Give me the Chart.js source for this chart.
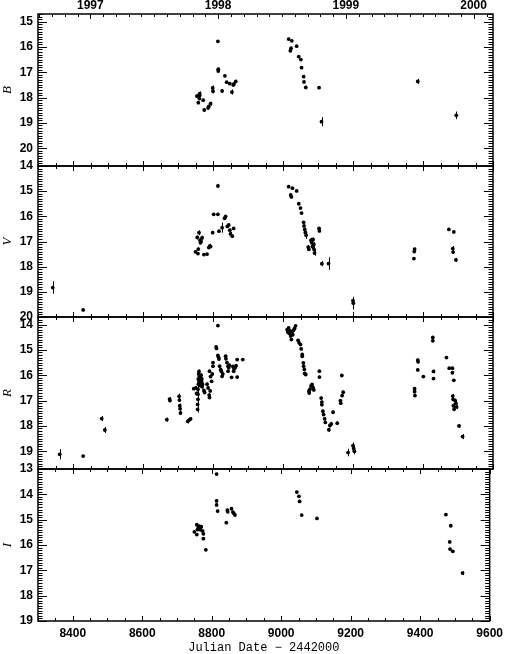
<!DOCTYPE html>
<html>
<head>
<meta charset="utf-8">
<script src="https://cdn.jsdelivr.net/npm/chart.js@4.4.0/dist/chart.umd.min.js"></script>
<style>
  html, body { margin: 0; padding: 0; background: #fff; }
  #wrap { position: relative; width: 508px; height: 654px; background: #fff; }
  #wrap canvas { position: absolute; left: 0; top: 0; }
</style>
</head>
<body>
<div id="wrap">
  <canvas id="cB" width="508" height="654"></canvas>
  <canvas id="cV" width="508" height="654"></canvas>
  <canvas id="cR" width="508" height="654"></canvas>
  <canvas id="cI" width="508" height="654"></canvas>
</div>
<script>
// x axis: Julian Date - 2442000
const dayTicks = [8400, 8600, 8800, 9000, 9200, 9400, 9600];
const yearTicks = [8449.5, 8814.5, 9179.5, 9544.5];
const yearLabels = ['1997', '1998', '1999', '2000'];

// B band
const bRange = [14.7, 20.7];
const bTicks = [15, 16, 17, 18, 19, 20];
const bDays = [8754, 8758, 8761, 8762, 8762, 8772, 8775, 8786, 8788, 8793, 8799, 8800,
  8814, 8815, 8815, 8826, 8834, 8839, 8848, 8854, 8858, 8860, 8865,
  9016, 9025, 9021, 9023, 9039, 9045, 9051, 9053, 9059, 9060, 9065, 9103, 9110,
  9385, 9495];
const bMag = [17.94, 18.20, 18.04, 17.84, 17.92, 18.10, 18.49, 18.41, 18.35, 18.24, 17.62, 17.75,
  15.78, 16.88, 16.95, 17.74, 17.14, 17.39, 17.45, 17.78, 17.50, 17.46, 17.36,
  15.69, 15.76, 16.15, 16.05, 15.97, 16.38, 16.50, 16.82, 17.17, 17.38, 17.60, 17.61, 18.95,
  17.36, 18.70];
const bErr = [0.08, 0.06, 0.06, 0.08, 0.06, 0.05, 0.05, 0.06, 0.06, 0.08, 0.10, 0.08,
  0.05, 0.06, 0.05, 0.08, 0.05, 0.05, 0.05, 0.10, 0.06, 0.05, 0.06,
  0.05, 0.04, 0.05, 0.05, 0.04, 0.04, 0.04, 0.05, 0.07, 0.05, 0.07, 0.05, 0.18,
  0.10, 0.15];

// V band
const vRange = [14, 20];
const vTicks = [14, 15, 16, 17, 18, 19, 20];
const vDays = [8342, 8429,
  8750, 8755, 8757, 8758, 8760, 8763, 8764, 8766, 8769, 8774, 8783, 8788, 8791, 8793,
  8799, 8802, 8814, 8814, 8817, 8826, 8833, 8836, 8841, 8845, 8848, 8850, 8855, 8859,
  9016, 9022, 9024, 9027, 9039, 9045, 9050, 9053, 9059, 9060, 9062, 9064, 9066, 9072, 9074,
  9080, 9082, 9084, 9086, 9088, 9089, 9090, 9103, 9104, 9111, 9130, 9200, 9201,
  9374, 9375, 9376, 9474, 9485, 9486, 9488, 9494];
const vMag = [18.83, 19.72,
  17.41, 16.84, 17.48, 17.30, 16.65, 16.95, 17.05, 17.00, 16.85, 17.52, 17.50, 17.24, 17.17, 17.20,
  16.65, 15.92, 15.92, 14.79, 16.59, 16.45, 16.08, 16.00, 16.40, 16.34, 16.55, 16.70, 16.79, 16.48,
  14.82, 15.15, 15.23, 14.88, 14.99, 15.50, 15.67, 15.87, 16.24, 16.38, 16.52, 16.64, 16.75, 17.22, 17.31,
  16.95, 17.05, 17.20, 16.92, 17.12, 17.32, 17.46, 16.48, 16.58, 17.88, 17.88, 19.35, 19.45,
  17.68, 17.40, 17.30, 16.52, 17.28, 17.42, 16.62, 17.73];
const vErr = [0.25, 0.04,
  0.06, 0.08, 0.06, 0.06, 0.10, 0.08, 0.06, 0.06, 0.08, 0.04, 0.04, 0.05, 0.08, 0.05,
  0.05, 0.05, 0.06, 0.08, 0.05, 0.20, 0.06, 0.05, 0.06, 0.05, 0.05, 0.08, 0.06, 0.05,
  0.04, 0.05, 0.05, 0.04, 0.04, 0.04, 0.04, 0.05, 0.05, 0.05, 0.06, 0.08, 0.15, 0.08, 0.06,
  0.10, 0.08, 0.10, 0.08, 0.10, 0.10, 0.10, 0.05, 0.05, 0.10, 0.25, 0.15, 0.25,
  0.05, 0.05, 0.05, 0.04, 0.10, 0.08, 0.05, 0.08];

// R band
const rRange = [13.7, 19.7];
const rTicks = [14, 15, 16, 17, 18, 19];
const rDays = [8362, 8429, 8482, 8491,
  8668, 8676, 8677, 8703, 8704, 8705, 8706, 8707, 8728, 8732, 8736, 8745, 8751, 8753,
  8756, 8756, 8757, 8757, 8757, 8758, 8758, 8759, 8760, 8760, 8761, 8762, 8763, 8764, 8765, 8766, 8767, 8768, 8769, 8770,
  8774, 8776, 8783, 8786, 8789, 8790, 8792, 8790, 8793, 8796, 8798, 8800, 8800, 8809, 8810,
  8814, 8814, 8816, 8817, 8819, 8822, 8824, 8826, 8828, 8836, 8837, 8840, 8843, 8845, 8847, 8843,
  8853, 8857, 8860, 8863, 8866, 8859, 8869, 8869, 8885,
  9012, 9014, 9016, 9018, 9020, 9022, 9024, 9026, 9028, 9030, 9033, 9036,
  9043, 9046, 9050, 9052, 9055, 9055, 9058, 9059, 9061, 9062, 9065,
  9074, 9075, 9077, 9080, 9083, 9086, 9088, 9104, 9104, 9109, 9111, 9111, 9114, 9116, 9119, 9121,
  9131, 9134, 9138, 9143, 9155, 9164, 9165, 9168, 9169, 9172, 9186, 9200, 9202, 9204,
  9376, 9376, 9377, 9385, 9386, 9385, 9401, 9428, 9428, 9430, 9430,
  9467, 9475, 9484, 9484, 9488, 9485, 9486, 9487, 9489, 9492, 9494, 9496, 9503, 9513];
const rMag = [19.12, 19.19, 17.71, 18.16,
  17.75, 16.94, 17.00, 16.83, 16.98, 17.20, 17.32, 17.49, 17.82, 17.76, 17.72, 16.53, 16.50, 16.72,
  17.35, 17.15, 16.95, 16.75, 16.55, 16.35, 16.15, 15.95, 15.85, 16.25, 16.05, 16.40, 16.20, 16.10, 16.30, 16.00, 16.25, 16.15, 16.45, 16.35,
  16.60, 16.68, 16.35, 16.50, 16.78, 16.88, 16.62, 15.84, 16.05, 16.24, 15.95, 15.50, 15.64, 14.88, 14.94,
  14.04, 15.22, 15.30, 15.36, 15.64, 15.78, 15.85, 16.04, 15.95, 15.25, 15.35, 15.50, 15.64, 15.70, 15.60, 15.84,
  16.08, 15.65, 15.75, 15.70, 15.62, 15.84, 15.38, 16.07, 15.38,
  14.20, 14.30, 14.13, 14.35, 14.25, 14.45, 14.59, 14.28, 14.40, 14.22, 14.15, 14.05,
  14.62, 14.72, 14.79, 14.96, 15.18, 15.25, 15.51, 15.64, 15.77, 15.93, 15.97,
  16.62, 16.70, 16.55, 16.42, 16.36, 16.48, 16.58, 15.84, 16.07, 16.90, 17.06, 17.16, 17.42, 17.55, 17.72, 17.86,
  18.15, 17.98, 17.92, 17.46, 17.89, 17.00, 17.10, 16.01, 16.80, 16.67, 19.05, 18.78, 18.90, 19.00,
  16.53, 16.65, 16.80, 15.40, 15.47, 15.79, 16.05, 14.51, 14.64, 15.85, 16.13,
  15.30, 15.72, 15.72, 15.90, 16.20, 16.82, 16.95, 17.20, 17.34, 17.00, 17.10, 17.25, 18.00, 18.42];
const rErr = [0.20, 0.04, 0.10, 0.12,
  0.08, 0.08, 0.06, 0.10, 0.08, 0.08, 0.08, 0.08, 0.08, 0.06, 0.06, 0.06, 0.06, 0.08,
  0.12, 0.12, 0.12, 0.12, 0.12, 0.10, 0.10, 0.10, 0.08, 0.08, 0.08, 0.08, 0.08, 0.08, 0.08, 0.08, 0.08, 0.08, 0.08, 0.06,
  0.06, 0.06, 0.06, 0.06, 0.08, 0.06, 0.06, 0.05, 0.05, 0.05, 0.05, 0.05, 0.05, 0.05, 0.05,
  0.05, 0.05, 0.05, 0.05, 0.05, 0.05, 0.05, 0.05, 0.05, 0.05, 0.05, 0.05, 0.05, 0.05, 0.05, 0.05,
  0.05, 0.05, 0.05, 0.05, 0.05, 0.05, 0.05, 0.05, 0.04,
  0.04, 0.04, 0.04, 0.04, 0.04, 0.04, 0.04, 0.04, 0.04, 0.04, 0.04, 0.04,
  0.04, 0.04, 0.04, 0.04, 0.04, 0.04, 0.05, 0.05, 0.05, 0.05, 0.05,
  0.06, 0.06, 0.05, 0.05, 0.05, 0.05, 0.05, 0.05, 0.05, 0.06, 0.06, 0.06, 0.06, 0.06, 0.06, 0.06,
  0.08, 0.08, 0.08, 0.07, 0.07, 0.06, 0.06, 0.06, 0.06, 0.06, 0.15, 0.12, 0.12, 0.12,
  0.05, 0.05, 0.05, 0.06, 0.06, 0.05, 0.05, 0.05, 0.05, 0.07, 0.05,
  0.04, 0.04, 0.04, 0.04, 0.05, 0.08, 0.08, 0.08, 0.08, 0.08, 0.08, 0.08, 0.08, 0.10];

// I band
const iRange = [13, 19];
const iTicks = [13, 14, 15, 16, 17, 18, 19];
const iDays = [8750, 8757, 8757, 8759, 8762, 8764, 8766, 8768, 8770, 8774, 8776, 8776, 8783,
  8814, 8814, 8814, 8817, 8842, 8845, 8846, 8857, 8861, 8864, 8867,
  9045, 9051, 9053, 9059, 9103,
  9474, 9488, 9485, 9486, 9494, 9522];
const iMag = [15.48, 15.59, 15.20, 15.39, 15.30, 15.26, 15.35, 15.40, 15.28, 15.45, 15.56, 15.75, 16.19,
  13.20, 14.26, 14.42, 14.66, 15.12, 14.62, 14.69, 14.57, 14.70, 14.76, 14.82,
  13.91, 14.08, 14.28, 14.82, 14.95,
  14.80, 15.24, 15.88, 16.16, 16.25, 17.11];
const iErr = [0.05, 0.05, 0.05, 0.05, 0.05, 0.05, 0.05, 0.05, 0.05, 0.05, 0.05, 0.05, 0.05,
  0.05, 0.05, 0.05, 0.05, 0.05, 0.05, 0.05, 0.05, 0.05, 0.05, 0.05,
  0.04, 0.04, 0.04, 0.04, 0.04,
  0.04, 0.04, 0.04, 0.04, 0.04, 0.08];

const tickFont = { family: 'Liberation Sans, Arial, sans-serif', size: 12, weight: 'bold' };
const bandFont = { family: 'Liberation Serif, serif', size: 13, style: 'italic', lineHeight: 1 };
const xTitleFont = { family: 'Liberation Mono, monospace', size: 12, lineHeight: 1 };

// vertical error bars drawn from the scales
const errorBars = {
  id: 'errorBars',
  beforeDatasetsDraw(chart) {
    const { ctx, chartArea: a, scales: { x, y } } = chart;
    const ds = chart.data.datasets[0];
    ctx.save();
    ctx.beginPath();
    ctx.rect(a.left, a.top, a.right - a.left, a.bottom - a.top);
    ctx.clip();
    ctx.strokeStyle = '#000';
    ctx.lineWidth = 1;
    ctx.beginPath();
    ds.data.forEach((p, i) => {
      const e = ds.err[i];
      const px = Math.round(x.getPixelForValue(p.x)) + 0.5;
      ctx.moveTo(px, y.getPixelForValue(p.y - e));
      ctx.lineTo(px, y.getPixelForValue(p.y + e));
    });
    ctx.stroke();
    ctx.restore();
  }
};

// IDL-style frame with inward ticks on all four sides
const frameTicks = {
  id: 'frameTicks',
  afterDraw(chart, args, opts) {
    const { ctx, chartArea: a, scales: { x, y } } = chart;
    ctx.save();
    ctx.strokeStyle = '#000';
    ctx.lineWidth = 1;
    ctx.beginPath();
    for (let k = Math.ceil(y.min * 10 - 1e-6); k <= Math.floor(y.max * 10 + 1e-6); k++) {
      const py = Math.round(y.getPixelForValue(k / 10)) + 0.5;
      const len = k % 10 === 0 ? 9 : 4.5;
      ctx.moveTo(a.left, py); ctx.lineTo(a.left + len, py);
      ctx.moveTo(a.right, py); ctx.lineTo(a.right - len, py);
    }
    for (let d = x.min; d <= x.max; d += 50) {
      const px = Math.round(x.getPixelForValue(d)) + 0.5;
      const len = d % 200 === 0 ? 5 : 3;
      ctx.moveTo(px, a.bottom); ctx.lineTo(px, a.bottom - len);
      if (!opts.yearTop) { ctx.moveTo(px, a.top); ctx.lineTo(px, a.top + len); }
    }
    if (opts.yearTop) {
      const step = 365.25 / 10;
      for (let d = yearTicks[0] - 10 * step; d <= x.max; d += step) {
        if (d < x.min) continue;
        const major = yearTicks.some(t => Math.abs(t - d) < 1);
        const px = Math.round(x.getPixelForValue(d)) + 0.5;
        ctx.moveTo(px, a.top); ctx.lineTo(px, a.top + (major ? 5 : 3));
      }
    }
    ctx.stroke();
    ctx.lineWidth = 1.5;
    ctx.strokeRect(a.left, a.top, a.right - a.left, a.bottom - a.top);
    ctx.restore();
  }
};

function makePanel(canvasId, label, days, mags, errs, range, ticks, top, bottom, first, last) {
  const scales = {
    x: {
      type: 'linear', min: 8300, max: 9600, display: last, position: 'bottom',
      afterBuildTicks: s => { s.ticks = dayTicks.map(v => ({ value: v })); },
      afterFit: s => { if (last) s.height = 654 - bottom; },
      grid: { display: false, drawTicks: false },
      border: { display: false },
      ticks: { autoSkip: false, maxRotation: 0, padding: 5, color: '#000', font: tickFont,
        callback: v => String(v) },
      title: { display: true, text: 'Julian Date \u2212 2442000', color: '#000', font: xTitleFont, padding: 0 }
    },
    y: {
      type: 'linear', reverse: true, min: range[0], max: range[1],
      afterBuildTicks: s => { s.ticks = ticks.map(v => ({ value: v })); },
      afterFit: s => { s.width = 38; },
      grid: { display: false, drawTicks: false },
      border: { display: false },
      ticks: { autoSkip: false, padding: 5, color: '#000', font: tickFont, callback: v => String(v) },
      title: { display: true, text: label, color: '#000', font: bandFont, padding: { top: 1, bottom: 0 } }
    }
  };
  if (first) {
    scales.xTop = {
      type: 'linear', min: 8300, max: 9600, position: 'top',
      afterBuildTicks: s => { s.ticks = yearTicks.map(v => ({ value: v })); },
      afterFit: s => { s.height = top; },
      grid: { display: false, drawTicks: false },
      border: { display: false },
      ticks: { autoSkip: false, maxRotation: 0, padding: 1, color: '#000', font: tickFont,
        callback: (v, i) => yearLabels[i] }
    };
  }
  return new Chart(document.getElementById(canvasId), {
    type: 'scatter',
    data: {
      datasets: [{
        data: days.map((d, i) => ({ x: d, y: mags[i] })),
        err: errs,
        pointRadius: 1.9,
        pointBackgroundColor: '#000',
        pointBorderWidth: 0
      }]
    },
    options: {
      responsive: false,
      animation: false,
      devicePixelRatio: 1,
      layout: { padding: { top: first ? 0 : top, bottom: last ? 0 : 654 - bottom, left: 0, right: 508 - 493 } },
      plugins: { legend: { display: false }, tooltip: { enabled: false }, frameTicks: { yearTop: first } },
      scales: scales
    },
    plugins: [errorBars, frameTicks]
  });
}

makePanel('cB', 'B', bDays, bMag, bErr, bRange, bTicks, 14, 166, true, false);
makePanel('cV', 'V', vDays, vMag, vErr, vRange, vTicks, 166, 317, false, false);
makePanel('cR', 'R', rDays, rMag, rErr, rRange, rTicks, 317, 469, false, false);
makePanel('cI', 'I', iDays, iMag, iErr, iRange, iTicks, 469, 621, false, true);
</script>
</body>
</html>
